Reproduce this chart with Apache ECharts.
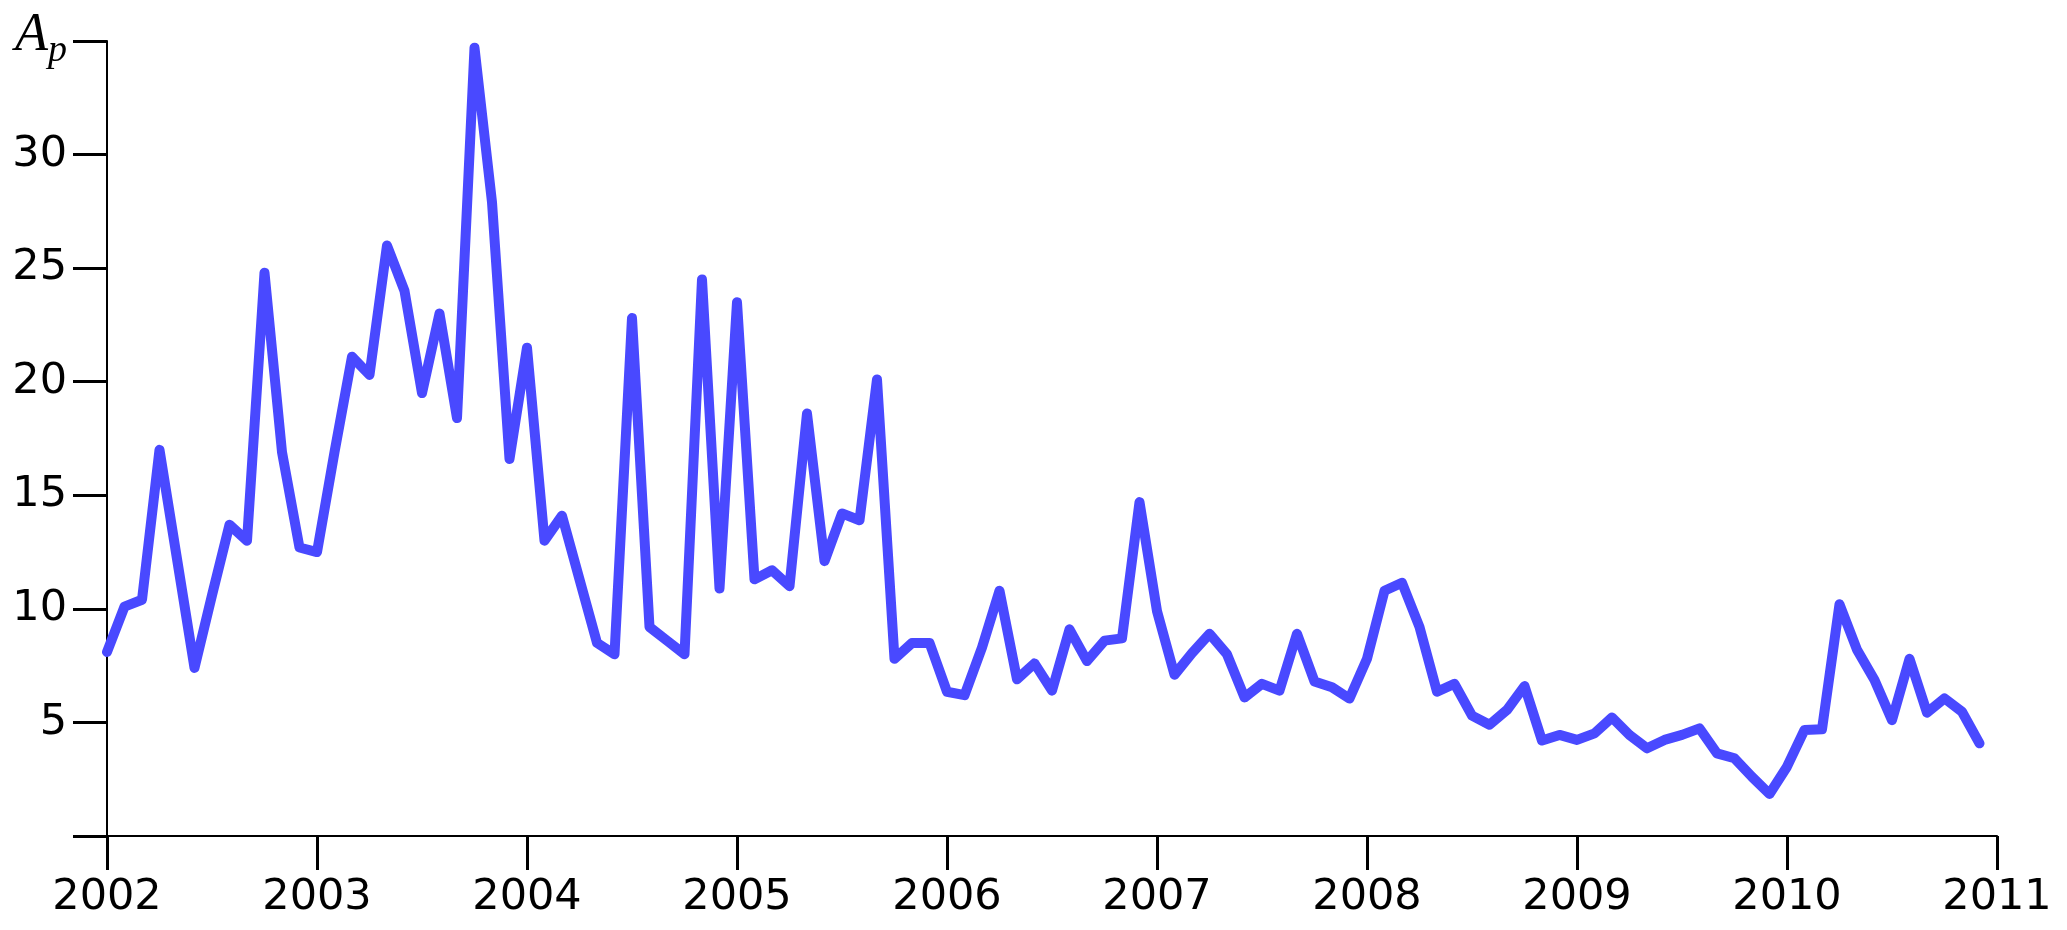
<!DOCTYPE html>
<html>
<head>
<meta charset="utf-8">
<script src="https://cdn.jsdelivr.net/npm/echarts@6/dist/echarts.min.js"></script>
<style>
  html, body { margin: 0; padding: 0; background: #ffffff; }
  #chart { width: 2067px; height: 930px; }
</style>
</head>
<body>
<div id="chart"></div>
<script>
// ---- data (monthly values, Jan 2002 .. Dec 2010) ----
const startYear = 2002;
const apValues = [
  8.1, 10.1, 10.4, 17.0, 12.2, 7.4, 10.6, 13.7, 13.0, 24.8, 16.9, 12.7,
  12.5, 16.9, 21.1, 20.3, 26.0, 24.0, 19.5, 23.0, 18.4, 34.7, 27.9, 16.6,
  21.5, 13.0, 14.1, 11.3, 8.5, 8.0, 22.8, 9.2, 8.6, 8.0, 24.5, 10.9,
  23.5, 11.3, 11.7, 11.0, 18.6, 12.1, 14.2, 13.9, 20.1, 7.8, 8.5, 8.5,
  6.35, 6.2, 8.3, 10.8, 6.9, 7.6, 6.4, 9.1, 7.7, 8.6, 8.7, 14.7,
  9.9, 7.1, 8.05, 8.9, 8.0, 6.1, 6.7, 6.4, 8.9, 6.8, 6.55, 6.05,
  7.8, 10.8, 11.15, 9.2, 6.35, 6.7, 5.3, 4.9, 5.55, 6.6, 4.2, 4.45,
  4.23, 4.52, 5.22, 4.45, 3.86, 4.23, 4.45, 4.74, 3.64, 3.42, 2.6, 1.85,
  3.05, 4.67, 4.7, 10.2, 8.2, 6.87, 5.1, 7.8, 5.43, 6.06, 5.47, 4.08
];
const xTickValues = [2002, 2003, 2004, 2005, 2006, 2007, 2008, 2009, 2010, 2011];
const xTickLabels = ['2002', '2003', '2004', '2005', '2006', '2007', '2008', '2009', '2010', '2011'];
const yTickValues = [0, 5, 10, 15, 20, 25, 30, 35];
const yTickLabels = ['', '5', '10', '15', '20', '25', '30', '{a|A}{p|p}'];

const seriesData = apValues.map((v, i) => [startYear + i / 12, v]);

const chart = echarts.init(document.getElementById('chart'), null, { renderer: 'canvas' });
const axisColor = '#000000';
const labelFont = 'DejaVu Sans';

chart.setOption({
  backgroundColor: '#ffffff',
  animation: false,
  grid: { left: 107, right: 70, top: 41, bottom: 94, containLabel: false },
  xAxis: {
    type: 'value',
    min: xTickValues[0],
    max: xTickValues[xTickValues.length - 1],
    interval: 1,
    axisLine: { show: true, onZero: false, lineStyle: { color: axisColor, width: 2 } },
    axisTick: { show: true, inside: false, length: 34, lineStyle: { color: axisColor, width: 3 } },
    splitLine: { show: false },
    axisLabel: {
      show: true, showMinLabel: true, showMaxLabel: true, hideOverlap: false,
      margin: 40, color: '#000', fontFamily: labelFont, fontSize: 43,
      formatter: v => { const k = xTickValues.indexOf(Math.round(v)); return k >= 0 ? xTickLabels[k] : ''; }
    }
  },
  yAxis: {
    type: 'value',
    min: yTickValues[0],
    max: yTickValues[yTickValues.length - 1],
    interval: 5,
    axisLine: { show: true, onZero: false, lineStyle: { color: axisColor, width: 2 } },
    axisTick: { show: true, inside: false, length: 34, lineStyle: { color: axisColor, width: 3 } },
    splitLine: { show: false },
    axisLabel: {
      show: true, showMinLabel: true, showMaxLabel: true, hideOverlap: false,
      margin: 40, color: '#000', fontFamily: labelFont, fontSize: 43,
      formatter: v => { const k = yTickValues.indexOf(Math.round(v)); return k >= 0 ? yTickLabels[k] : ''; },
      rich: {
        a: { fontFamily: 'Liberation Serif', fontStyle: 'italic', fontSize: 54, color: '#000', lineHeight: 58, verticalAlign: 'middle', padding: [0, 0, 10, 0] },
        p: { fontFamily: 'Liberation Serif', fontStyle: 'italic', fontSize: 38, color: '#000', lineHeight: 18, verticalAlign: 'bottom' }
      }
    }
  },
  series: [{
    type: 'line',
    data: seriesData,
    showSymbol: false,
    symbol: 'none',
    lineStyle: { color: '#4949ff', width: 10, cap: 'round', join: 'round' },
    emphasis: { disabled: true }
  }]
});
</script>
</body>
</html>
